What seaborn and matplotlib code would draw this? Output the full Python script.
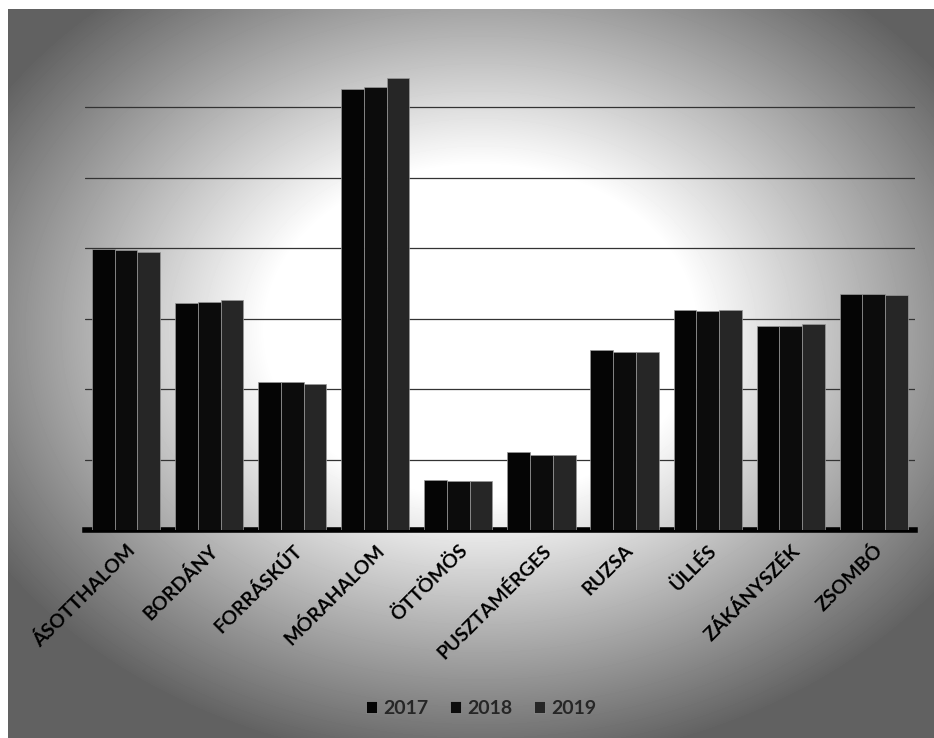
import numpy as np
import pandas as pd
import matplotlib
matplotlib.use("Agg")
import matplotlib.pyplot as plt
import seaborn as sns

towns = ["ÁSOTTHALOM", "BORDÁNY", "FORRÁSKÚT", "MÓRAHALOM", "ÖTTÖMÖS",
         "PUSZTAMÉRGES", "RUZSA", "ÜLLÉS", "ZÁKÁNYSZÉK", "ZSOMBÓ"]
years = ["2017", "2018", "2019"]
v2017 = [3990, 3220, 2100, 6260, 710, 1110, 2550, 3130, 2890, 3350]
v2018 = [3970, 3240, 2100, 6290, 690, 1060, 2530, 3110, 2890, 3350]
v2019 = [3950, 3270, 2070, 6420, 700, 1060, 2530, 3120, 2920, 3340]
colors = ["#050505", "#0c0c0c", "#262626"]

df = pd.DataFrame({
    "town": towns * 3,
    "year": [y for y in years for _ in towns],
    "value": v2017 + v2018 + v2019,
})

sns.set_theme(style="white")
plt.rcParams["font.family"] = ["Lato", "DejaVu Sans"]

fig = plt.figure(figsize=(9.34, 7.38), dpi=100)

# radial background (scanned look)
bg = fig.add_axes([0, 0, 1, 1], zorder=0)
H, W = 738, 934
yy, xx = np.mgrid[0:H, 0:W]
r = np.sqrt(((xx - 480) / 430.0) ** 2 + ((yy - 330) / 330.0) ** 2)
g = np.clip(1.0 - 0.6 * np.clip(r - 0.5, 0, None) / 0.8, 0.38, 1.0)
g[:9, :] = 1.0
g[:, :8] = 1.0
bg.imshow(g, cmap="gray", vmin=0, vmax=1, aspect="auto", interpolation="bilinear")
bg.axis("off")

ax = fig.add_axes([0.0905, 0.2818, 0.8895, 0.668], zorder=1)
ax.patch.set_alpha(0)
sns.barplot(data=df, x="town", y="value", hue="year", palette=colors,
            width=0.82, edgecolor="#999999", linewidth=0.5, ax=ax,
            legend=True, zorder=3)
ax.set_ylim(0, 7000)
ax.set_xlim(-0.5, len(towns) - 0.5)
ax.set_yticks(range(1000, 7000, 1000))
ax.yaxis.grid(True, color="#333333", linewidth=0.9)
ax.set_axisbelow(True)
ax.tick_params(axis="y", left=False, labelleft=False)
ax.tick_params(axis="x", bottom=False, pad=2)
for s in ["top", "right", "left"]:
    ax.spines[s].set_visible(False)
ax.spines["bottom"].set_color("black")
ax.spines["bottom"].set_linewidth(4)
ax.set_xlabel("")
ax.set_ylabel("")
ax.set_xticks(range(len(towns)))
ax.set_xticklabels(towns, rotation=45, ha="right", rotation_mode="anchor",
                   fontsize=14, fontweight="bold", color="black")

handles, labels = ax.get_legend_handles_labels()
ax.legend_.remove()
fig.legend(handles, labels, loc="center", bbox_to_anchor=(0.515, 0.04), ncol=3,
           frameon=False, handlelength=0.6, handleheight=0.6,
           handletextpad=0.3, columnspacing=1.1,
           prop={"weight": "bold", "size": 14})

fig.savefig("out.png", dpi=100)
